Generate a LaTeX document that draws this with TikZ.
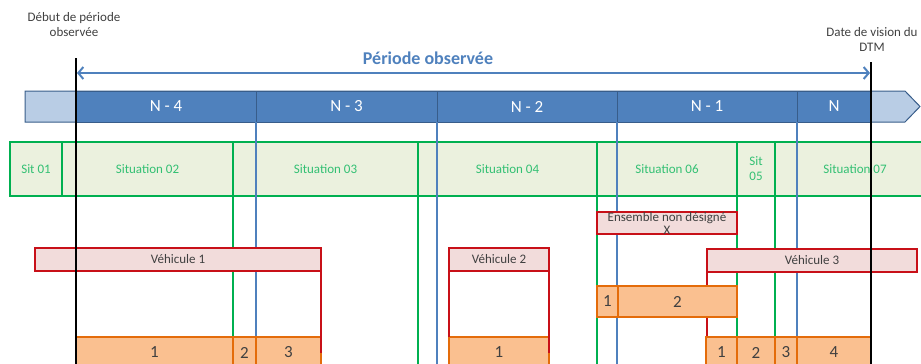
\documentclass[tikz,border=0pt]{standalone}
\usepackage{fontspec}
\setmainfont{Carlito}
\usetikzlibrary{arrows.meta}
\definecolor{bleuF}{RGB}{79,129,189}
\definecolor{bleuB}{RGB}{56,93,138}
\definecolor{bleuC}{RGB}{185,205,229}
\definecolor{vertF}{RGB}{235,241,222}
\definecolor{vertB}{RGB}{0,176,80}
\definecolor{roseF}{RGB}{242,220,219}
\definecolor{rougeB}{RGB}{200,16,24}
\definecolor{orangeF}{RGB}{250,192,144}
\definecolor{orangeB}{RGB}{228,108,10}
\definecolor{gris}{RGB}{64,64,64}
\tikzset{
  cellule/.style={rectangle, inner sep=0pt, outer sep=0pt, anchor=north west, align=center},
  annee/.style={cellule, draw=bleuB, fill=bleuF, line width=1pt, minimum height=31pt, text=white, font=\fontsize{17}{19}\selectfont},
  sit/.style={cellule, draw=vertB, fill=vertF, line width=1.2pt, minimum height=54pt, text=vertB!80, font=\fontsize{13}{15}\selectfont},
  vehic/.style={cellule, draw=rougeB, fill=roseF, line width=1.5pt, minimum height=23pt, text=gris, font=\fontsize{13}{13}\selectfont},
  morceau/.style={cellule, draw=orangeB, fill=orangeF, line width=1.5pt, minimum height=31pt, text=gris, font=\fontsize{17}{19}\selectfont},
  legende/.style={align=center, text=gris, font=\fontsize{13}{15}\selectfont},
  limite/.style={black, line width=1.2pt},
  trait bleu/.style={bleuF, line width=1.2pt},
  trait vert/.style={vertB, line width=1.2pt},
  trait rouge/.style={rougeB, line width=1.5pt},
}
\begin{document}
\begin{tikzpicture}[x=1pt,y=-1pt]
  \useasboundingbox (0,0) rectangle (921,364);
  \clip (0,0) rectangle (921,364);
  \coordinate (bas) at (0,372);
  % frise des annees
  \draw[bleuB, fill=bleuC, line width=1pt] (25,91) -- (905,91) -- (920,106.5) -- (905,122) -- (25,122) -- cycle;
  \node[annee, minimum width=180pt] (n4) at (76,91) {N - 4};
  \node[annee, minimum width=181pt] (n3) at (256,91) {N - 3};
  \node[annee, minimum width=180pt] (n2) at (437,91) {N - 2};
  \node[annee, minimum width=180pt] (n1) at (617,91) {N - 1};
  \node[annee, minimum width=74pt] (n0) at (797,91) {N};
  % situations
  \node[sit, minimum width=52pt] (s1) at (10,142) {Sit 01};
  \node[sit, minimum width=171pt] (s2) at (62,142) {Situation 02};
  \node[sit, minimum width=185pt] (s3) at (233,142) {Situation 03};
  \node[sit, minimum width=179pt] (s4) at (418,142) {Situation 04};
  \node[sit, minimum width=140pt] (s6) at (597,142) {Situation 06};
  \node[sit, minimum width=38pt] (s5) at (737,142) {Sit\\05};
  \node[sit, minimum width=160pt] (s7) at (775,142) {Situation 07};
  % reperes
  \draw[trait bleu] (n3.south west) -- (n3.south west |- bas);
  \draw[trait bleu] (n2.south west) -- (n2.south west |- bas);
  \draw[trait bleu] (n1.south west) -- (n1.south west |- bas);
  \draw[trait bleu] (n0.south west) -- (n0.south west |- bas);
  \draw[trait vert] (s3.south west) -- (s3.south west |- bas);
  \draw[trait vert] (s4.south west) -- (s4.south west |- bas);
  \draw[trait vert] (s6.south west) -- (s6.south west |- bas);
  \draw[trait vert] (s5.south west) -- (s5.south west |- bas);
  \draw[trait vert] (s7.south west) -- (s7.south west |- bas);
  % vehicules
  \node[vehic, minimum width=286pt] (v1) at (35,248) {V\'ehicule 1};
  \node[vehic, minimum width=100pt] (v2) at (449,248) {V\'ehicule 2};
  \node[vehic, minimum width=210pt] (v3) at (707,249) {V\'ehicule 3};
  \draw[trait rouge] (v3.south west) -- (v3.south west |- bas);
  \node[vehic, minimum width=140pt, minimum height=22pt] (ens) at (597,212) {Ensemble non d\'esign\'e\\X};
  \node[morceau, minimum width=21pt] (e1) at (597,286) {1};
  \node[morceau, minimum width=119pt] (e2) at (618,286) {2};
  \node[morceau, minimum width=157pt] (v1a) at (76,337) {1};
  \node[morceau, minimum width=23pt] (v1b) at (233,337) {2};
  \node[morceau, minimum width=65pt] (v1c) at (256,337) {3};
  \node[morceau, minimum width=100pt] (v2a) at (449,337) {1};
  \node[morceau, minimum width=31pt] (v3a) at (706,337) {1};
  \node[morceau, minimum width=38pt] (v3b) at (737,337) {2};
  \node[morceau, minimum width=22pt] (v3c) at (775,337) {3};
  \node[morceau, minimum width=74pt] (v3d) at (797,337) {4};
  \draw[trait rouge] (v1.south east) -- (v1.south east |- v1c.center);
  \draw[trait rouge] (v2.south west) -- (v2a.north west);
  \draw[trait rouge] (v2.south east) -- (v2.south east |- v2a.center);
  % periode observee
  \node[legende] (debut) at (74,25) {D\'ebut de p\'eriode\\observ\'ee};
  \node[legende] (dtm) at (872,39) {Date de vision du\\DTM};
  \coordinate (debut haut) at (76,58);
  \coordinate (dtm haut) at (871,62);
  \draw[limite] (debut haut) -- (debut haut |- bas);
  \draw[limite] (dtm haut) -- (dtm haut |- bas);
  \coordinate (fleche g) at (77,73);
  \coordinate (fleche d) at (870,73);
  \draw[bleuF, line width=2pt, {Straight Barb[length=5pt,width=12pt]}-{Straight Barb[length=5pt,width=12pt]}] (fleche g) -- (fleche d);
  \node[text=bleuF, font=\bfseries\fontsize{18}{20}\selectfont] (periode) at (428,58) {P\'eriode observ\'ee};
\end{tikzpicture}
\end{document}
